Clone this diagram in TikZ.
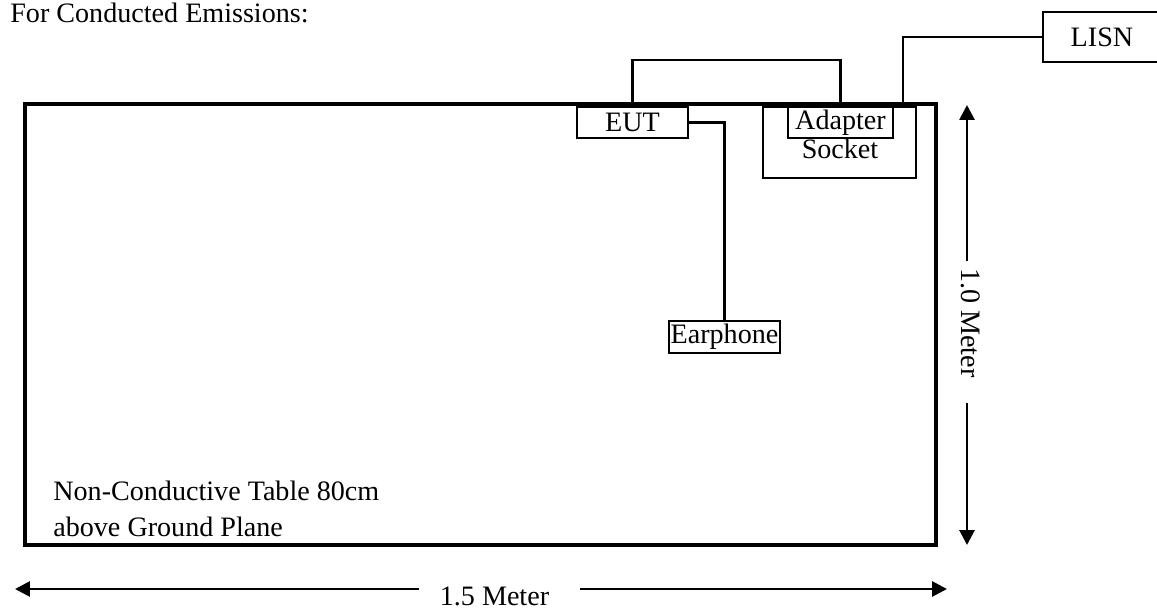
\documentclass[tikz,border=0pt]{standalone}
\usepackage{fontspec}
\setmainfont{Liberation Serif}
\usetikzlibrary{arrows.meta}
\tikzset{
	caja/.style={draw, line width=1.1pt, inner sep=0pt},
	cable/.style={line width=1.6pt},
	cota/.style={line width=1.6pt, -{Triangle[length=0.3cm,width=0.3cm]}},
}
\begin{document}
\begin{tikzpicture}[x=0.02cm, y=-0.02cm, font=\fontsize{16}{20.5}\selectfont]
	\useasboundingbox (0,0) rectangle (1157,612);
		% Titulo
			\node[anchor=base west, inner sep=0pt] (titulo) at (10,23) {For Conducted Emissions:};
		% Mesa
			\node[draw, line width=2.2pt, minimum width=18.22cm, minimum height=8.82cm] (mesa) at (480.5,324.5) {};
			\node[anchor=north west, align=left, inner sep=0pt] (nota) at (53,481) {Non-Conductive Table 80cm\\above Ground Plane};
		% Equipos
			\node[caja, minimum width=2.22cm, minimum height=0.62cm] (eut) at (632.5,122.5) {EUT};
			\node[caja, minimum width=3.06cm, minimum height=1.42cm] (socket) at (839.5,142.5) {};
			\node[anchor=base, inner sep=0pt] (socketlbl) at (840,158) {Socket};
			\node[caja, fill=white, minimum width=2.1cm, minimum height=0.62cm] (adapter) at (840.5,122.5) {Adapter};
			\node[caja, minimum width=2.22cm, minimum height=0.64cm] (earphone) at (724.5,337) {Earphone};
			\node[caja, anchor=west, minimum width=2.36cm, minimum height=1cm] (lisn) at (1042,37) {LISN};
		% Cables
			\coordinate (enchufe) at (903,104);
			\draw[cable] (eut.north) -- ++(0,-46) -| (adapter.north);
			\draw[cable] (eut.east) -| (earphone.north);
			\draw[cable] (lisn.west) -| (enchufe);
		% Cotas
			% Vertical
				\coordinate (vsup) at (967,105);
				\coordinate (vinf) at (967,545);
				\node[rotate=-90, inner sep=0pt] (vlbl) at (971,323) {1.0 Meter};
				\draw[cota, shorten <=0.14cm] (vlbl.west -| vsup) -- (vsup);
				\draw[cota, shorten <=0.5cm] (vlbl.east -| vinf) -- (vinf);
			% Horizontal
				\coordinate (hizq) at (15,589);
				\coordinate (hder) at (947,589);
				\node[anchor=base, inner sep=0pt] (hlbl) at (494.5,605) {1.5 Meter};
				\draw[cota, shorten <=0.42cm] (hlbl.west |- hizq) -- (hizq);
				\draw[cota, shorten <=0.62cm] (hlbl.east |- hder) -- (hder);
\end{tikzpicture}
\end{document}
